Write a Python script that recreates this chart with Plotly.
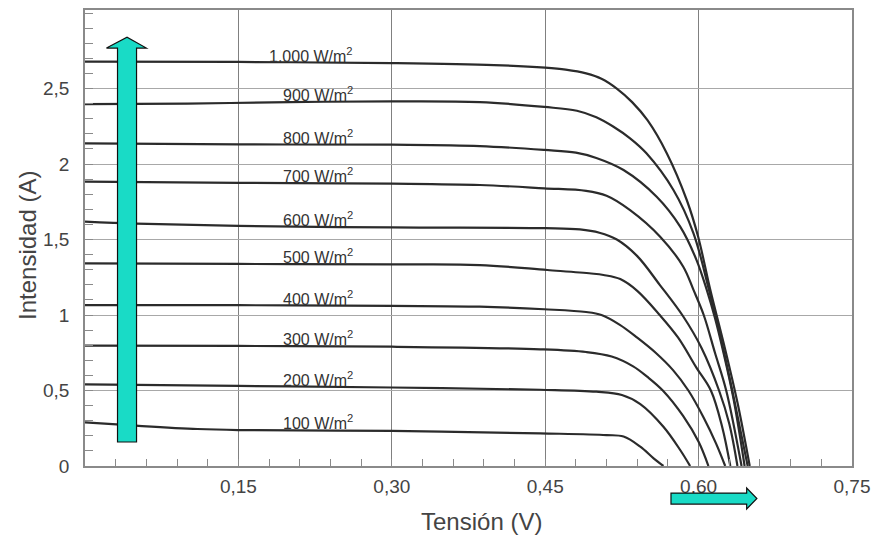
import numpy as np
import plotly.graph_objects as go

# ---- data (V in volts, I in amperes) ----
irradiance_labels = ["1.000 W/m<sup>2</sup>", "900 W/m<sup>2</sup>", "800 W/m<sup>2</sup>",
                     "700 W/m<sup>2</sup>", "600 W/m<sup>2</sup>", "500 W/m<sup>2</sup>",
                     "400 W/m<sup>2</sup>", "300 W/m<sup>2</sup>", "200 W/m<sup>2</sup>",
                     "100 W/m<sup>2</sup>"]

v_1000 = [0, 0.15, 0.30, 0.40, 0.45, 0.47, 0.49, 0.505, 0.52, 0.535, 0.55, 0.569, 0.5885, 0.5995, 0.6113, 0.625, 0.638, 0.650]
i_1000 = [2.678, 2.676, 2.668, 2.655, 2.638, 2.625, 2.60, 2.565, 2.50, 2.41, 2.29, 2.07, 1.76, 1.52, 1.17, 0.80, 0.42, 0.0]

v_900 = [0, 0.10, 0.20, 0.30, 0.386, 0.449, 0.481, 0.50, 0.5168, 0.533, 0.549, 0.5754, 0.595, 0.610, 0.624, 0.636, 0.648]
i_900 = [2.397, 2.400, 2.41, 2.415, 2.41, 2.378, 2.353, 2.31, 2.247, 2.17, 2.071, 1.828, 1.541, 1.17, 0.78, 0.40, 0.0]

v_800 = [0, 0.15, 0.30, 0.386, 0.449, 0.48, 0.50, 0.5266, 0.559, 0.582, 0.598, 0.608, 0.616, 0.624, 0.634, 0.645]
i_800 = [2.137, 2.13, 2.128, 2.119, 2.093, 2.075, 2.04, 1.96, 1.783, 1.585, 1.364, 1.166, 0.98, 0.76, 0.45, 0.0]

v_700 = [0, 0.15, 0.30, 0.386, 0.449, 0.49, 0.51, 0.533, 0.5624, 0.585, 0.595, 0.605, 0.616, 0.627, 0.642]
i_700 = [1.883, 1.875, 1.87, 1.861, 1.839, 1.822, 1.79, 1.695, 1.519, 1.32, 1.166, 1.0, 0.75, 0.50, 0.0]

v_600 = [0, 0.05, 0.15, 0.30, 0.45, 0.484, 0.503, 0.52, 0.54, 0.562, 0.585, 0.603, 0.620, 0.630, 0.638]
i_600 = [1.618, 1.605, 1.59, 1.58, 1.575, 1.567, 1.545, 1.50, 1.39, 1.20, 0.99, 0.78, 0.50, 0.28, 0.0]

v_500 = [0, 0.15, 0.30, 0.386, 0.452, 0.495, 0.507, 0.5234, 0.54, 0.562, 0.58, 0.598, 0.612, 0.623, 0.631]
i_500 = [1.342, 1.338, 1.335, 1.331, 1.298, 1.275, 1.265, 1.238, 1.16, 1.0, 0.85, 0.65, 0.50, 0.26, 0.0]

v_400 = [0, 0.15, 0.30, 0.386, 0.449, 0.49, 0.505, 0.523, 0.54, 0.558, 0.575, 0.59, 0.605, 0.617, 0.626]
i_400 = [1.066, 1.065, 1.06, 1.055, 1.038, 1.02, 1.0, 0.935, 0.85, 0.75, 0.635, 0.50, 0.32, 0.15, 0.0]

v_300 = [0, 0.15, 0.30, 0.445, 0.49, 0.515, 0.536, 0.55, 0.565, 0.585, 0.60, 0.6096]
i_300 = [0.797, 0.795, 0.79, 0.773, 0.755, 0.725, 0.66, 0.59, 0.50, 0.33, 0.16, 0.0]

v_200 = [0, 0.15, 0.30, 0.445, 0.50, 0.525, 0.543, 0.5656, 0.582, 0.5917]
i_200 = [0.541, 0.53, 0.52, 0.505, 0.492, 0.47, 0.41, 0.26, 0.106, 0.0]

v_100 = [0, 0.05, 0.11, 0.15, 0.30, 0.445, 0.51, 0.5266, 0.543, 0.556, 0.5656]
i_100 = [0.289, 0.267, 0.245, 0.238, 0.232, 0.216, 0.205, 0.195, 0.128, 0.051, 0.0]

x_tick_vals = [0.15, 0.30, 0.45, 0.60, 0.75]
x_tick_text = ["0,15", "0,30", "0,45", "0,60", "0,75"]
y_tick_vals = [0, 0.5, 1, 1.5, 2, 2.5]
y_tick_text = ["0", "0,5", "1", "1,5", "2", "2,5"]
x_title = "Tensión (V)"
y_title = "Intensidad (A)"

voltages = [v_1000, v_900, v_800, v_700, v_600, v_500, v_400, v_300, v_200, v_100]
currents = [i_1000, i_900, i_800, i_700, i_600, i_500, i_400, i_300, i_200, i_100]

# ---- figure ----
X_RANGE = [0, 0.75]
Y_RANGE = [0, 3.02]
LINE_COLOR = "#2b2b2b"
TEAL = "#19dbc6"
FONT = "Liberation Sans, Arial, sans-serif"

fig = go.Figure()
for v, i in zip(voltages, currents):
    fig.add_trace(go.Scatter(x=v, y=i, mode="lines",
                             line=dict(color=LINE_COLOR, width=2.2, shape="spline", smoothing=1.0),
                             hoverinfo="skip", showlegend=False))

LABEL_X = 0.264
for lab, v, i in zip(irradiance_labels, voltages, currents):
    fig.add_annotation(x=LABEL_X, y=float(np.interp(LABEL_X - 0.045, v, i)),
                       xref="x", yref="y", text=lab, showarrow=False,
                       xanchor="right", yanchor="bottom", yshift=-4,
                       font=dict(family=FONT, size=16, color="#333333"))

# axis titles (placed as in the reference)
fig.add_annotation(x=0.5176, y=-0.121, xref="paper", yref="paper", text=x_title,
                   showarrow=False, xanchor="center", yanchor="middle",
                   font=dict(family=FONT, size=24, color="#444444"))
fig.add_annotation(x=-0.074, y=0.483, xref="paper", yref="paper", text=y_title,
                   showarrow=False, xanchor="center", yanchor="middle", textangle=-90,
                   font=dict(family=FONT, size=24, color="#444444"))

# vertical arrow (data coords, inside plot)
ax0, ax1, hx0, hx1 = 0.0318, 0.0504, 0.021, 0.060
ay0, ayh, aytip = 0.159, 2.768, 2.84
cx = (ax0 + ax1) / 2
fig.add_shape(type="path", xref="x", yref="y",
              path=f"M {ax0},{ay0} L {ax0},{ayh} L {hx0},{ayh} L {cx},{aytip} L {hx1},{ayh} L {ax1},{ayh} L {ax1},{ay0} Z",
              fillcolor=TEAL, line=dict(color="#111111", width=1.2), layer="above")

# horizontal arrow (below plot, paper coords)
def px(v):
    return (v - X_RANGE[0]) / (X_RANGE[1] - X_RANGE[0])

def py(i):
    return (i - Y_RANGE[0]) / (Y_RANGE[1] - Y_RANGE[0])

hb0, hh, htip = 0.573, 0.647, 0.657
hy0, hy1, hhy0, hhy1 = -0.179, -0.252, -0.146, -0.285
hyc = (hy0 + hy1) / 2
fig.add_shape(type="path", xref="paper", yref="paper",
              path=(f"M {px(hb0)},{py(hy0)} L {px(hh)},{py(hy0)} L {px(hh)},{py(hhy0)} "
                    f"L {px(htip)},{py(hyc)} L {px(hh)},{py(hhy1)} L {px(hh)},{py(hy1)} "
                    f"L {px(hb0)},{py(hy1)} Z"),
              fillcolor=TEAL, line=dict(color="#111111", width=1.2), layer="above")

tick_font = dict(family=FONT, size=19, color="#444444")
fig.update_layout(
    width=872, height=536,
    margin=dict(l=85, r=20, t=10, b=70, autoexpand=False),
    paper_bgcolor="white", plot_bgcolor="white",
    showlegend=False,
    font=dict(family=FONT),
    xaxis=dict(range=X_RANGE, tickmode="array", tickvals=x_tick_vals, ticktext=x_tick_text,
               showgrid=True, gridcolor="#808080", gridwidth=1.2,
               showline=True, linecolor="#8a8a8a", linewidth=1.5, mirror=True,
               ticks="inside", ticklen=7, tickcolor="#8a8a8a",
               minor=dict(dtick=0.03, tick0=0, ticks="inside", ticklen=7, tickcolor="#8a8a8a", showgrid=False),
               tickfont=tick_font, zeroline=False, ticklabelstandoff=2),
    yaxis=dict(range=Y_RANGE, tickmode="array", tickvals=y_tick_vals, ticktext=y_tick_text,
               showgrid=True, gridcolor="#a8a8a8", gridwidth=1.2,
               showline=True, linecolor="#8a8a8a", linewidth=1.5, mirror=True,
               ticks="inside", ticklen=8, tickcolor="#8a8a8a",
               minor=dict(dtick=0.1, tick0=0, ticks="inside", ticklen=8, tickcolor="#8a8a8a", showgrid=False),
               tickfont=tick_font, zeroline=False, ticklabelstandoff=10),
)

fig.write_html("out.html", config={"displayModeBar": False},
               post_script="document.body.style.margin='0px';")
